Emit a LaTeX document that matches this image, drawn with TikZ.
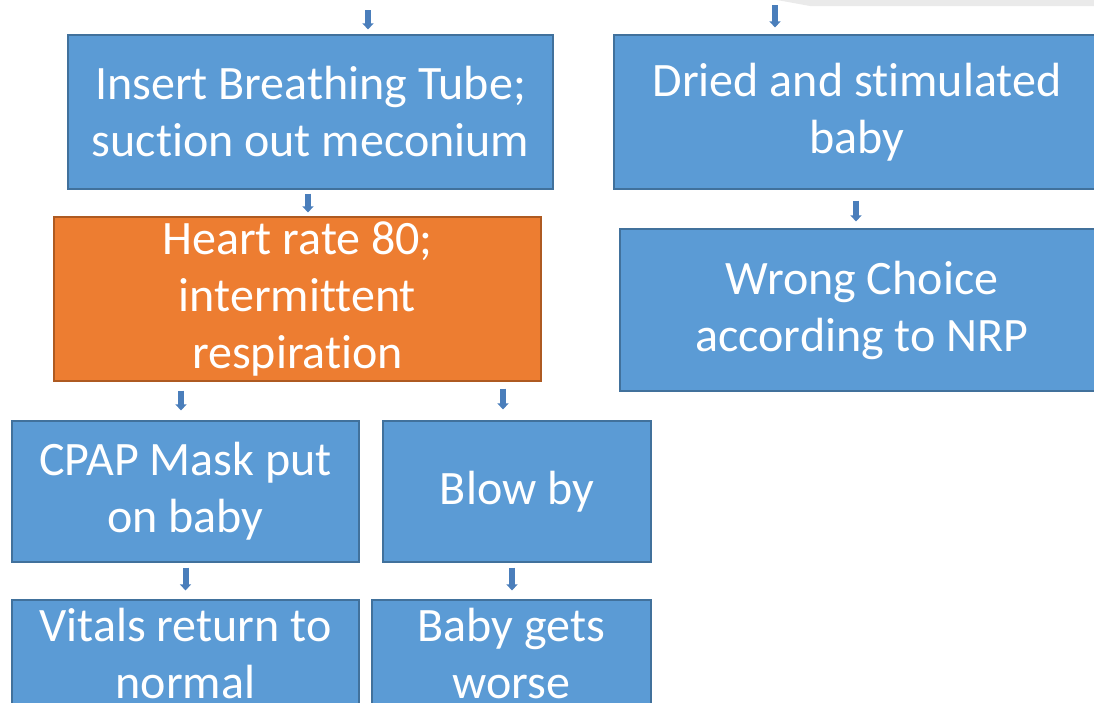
\documentclass[tikz,border=0pt]{standalone}
\usepackage{fontspec}
\setmainfont{Carlito}[Ligatures={CommonOff,ContextualOff}]
\usetikzlibrary{arrows.meta,positioning}
\definecolor{boxblue}{HTML}{5B9BD5}
\definecolor{boxblueline}{HTML}{41719C}
\definecolor{boxorange}{HTML}{ED7D31}
\definecolor{boxorangeline}{HTML}{AE5A21}
\definecolor{arrowblue}{HTML}{4A7EBB}
\definecolor{shadegrey}{HTML}{EAEAEA}

\begin{document}
\begin{tikzpicture}[x=1pt,y=-1pt,
		stepbox/.style={rectangle, draw=boxblueline, fill=boxblue, line width=1.2pt, inner sep=0pt, align=center, text=white, font=\fontsize{48pt}{57pt}\selectfont},
		hotbox/.style={stepbox, draw=boxorangeline, fill=boxorange},
		flow/.style={draw=arrowblue, line width=6pt, -{Triangle[width=11pt,length=6pt]}} % petites fleches
		]
		\useasboundingbox (0,0) rectangle (1094,702);
		\clip (0,0) rectangle (1094,702);
		
		% ombre grise en haut
		\fill[shadegrey] (777,0) -- (810,6) -- (1094,6) -- (1094,0) -- cycle;
		
		% Les cases
		\node[stepbox, minimum width=485pt, minimum height=154pt] (tube) at (310.5,112) {Insert Breathing Tube;\\suction out meconium};
		\node[stepbox, minimum width=486pt, minimum height=154pt] (dried) at (857,112) {Dried and stimulated\\baby};
		\node[hotbox, minimum width=487pt, minimum height=164pt] (heart) at (297.5,299) {Heart rate 80;\\intermittent\\respiration};
		\node[stepbox, minimum width=484pt, minimum height=162pt] (wrong) at (862,310) {Wrong Choice\\according to NRP};
		\node[stepbox, minimum width=347pt, minimum height=141pt] (cpap) at (185.5,491.5) {CPAP Mask put\\on baby};
		\node[stepbox, minimum width=268pt, minimum height=141pt] (blow) at (517,491.5) {Blow by};
		\node[stepbox, minimum width=347pt, minimum height=106pt] (vitals) at (185.5,653) {Vitals return to\\normal};
		\node[stepbox, minimum width=279pt, minimum height=106pt] (worse) at (511.5,653) {Baby gets\\worse};
		
		% entrees venant d'en haut
		\coordinate (inTube) at (368,10);
		\coordinate (inDried) at (775,5);
		
		% Les fleches
		\draw[flow, shorten >=5pt] (inTube) -- (inTube |- tube.north);
		\draw[flow, shorten >=7pt] (inDried) -- (inDried |- dried.north);
		\draw[flow, shorten <=4pt, shorten >=4pt] ([xshift=-2.5pt]tube.south) -- ([xshift=-2.5pt]tube.south |- heart.north);
		\draw[flow, shorten <=11pt, shorten >=7pt] ([xshift=-1pt]dried.south) -- ([xshift=-1pt]dried.south |- wrong.north);
		\draw[flow, shorten <=9pt, shorten >=10pt] ([xshift=-4.5pt]cpap.north |- heart.south) -- ([xshift=-4.5pt]cpap.north);
		\draw[flow, shorten <=7pt, shorten >=11pt] ([xshift=-14pt]blow.north |- heart.south) -- ([xshift=-14pt]blow.north);
		\draw[flow, shorten <=5pt, shorten >=9pt] (cpap.south) -- (cpap.south |- vitals.north);
		\draw[flow, shorten <=5pt, shorten >=9pt] ([xshift=-5pt]blow.south) -- ([xshift=-5pt]blow.south |- worse.north);
	\end{tikzpicture}
\end{document}
